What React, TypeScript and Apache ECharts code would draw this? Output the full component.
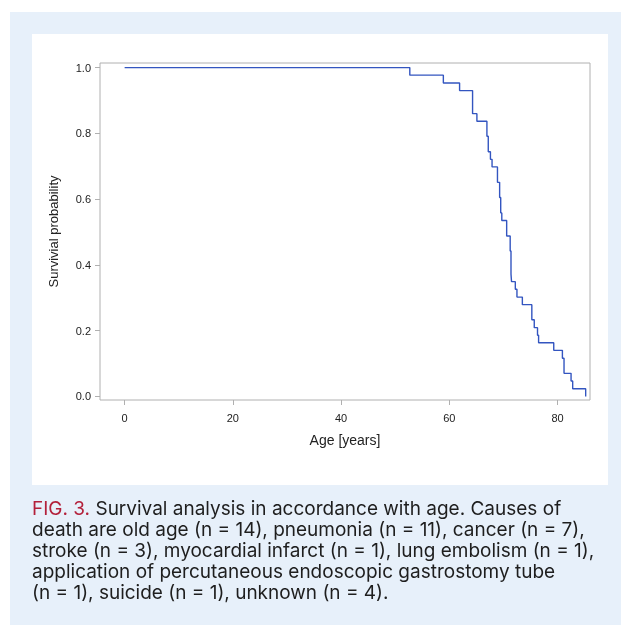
import React, { useEffect, useRef } from "react";
import * as echarts from "echarts";

// Kaplan-Meier survival estimates (age in years)
const ages = [0, 52.7, 58.9, 61.9, 64.3, 65.1, 66.95, 67.2, 67.6, 67.9, 68.9, 69.3, 69.5, 69.7, 70.6, 71.25, 71.4, 71.5, 72.2, 72.5, 73.5, 75.25, 75.7, 76.3, 76.5, 79.3, 80.9, 81.2, 82.5, 82.8, 85.2];
const survival = [1.0, 0.977, 0.953, 0.93, 0.86, 0.837, 0.791, 0.744, 0.721, 0.698, 0.651, 0.605, 0.558, 0.535, 0.488, 0.442, 0.372, 0.349, 0.326, 0.302, 0.279, 0.233, 0.209, 0.186, 0.163, 0.14, 0.116, 0.07, 0.047, 0.023, 0.0];
const xTicks = [0, 20, 40, 60, 80];
const yTicks = [0, 0.2, 0.4, 0.6, 0.8, 1.0];

const captionLines = [
  "{r|FIG. 3.} Survival analysis in accordance with age. Causes of",
  "death are old age (n = 14), pneumonia (n = 11), cancer (n = 7),",
  "stroke (n = 3), myocardial infarct (n = 1), lung embolism (n = 1),",
  "application of percutaneous endoscopic gastrostomy tube",
  "(n = 1), suicide (n = 1), unknown (n = 4).",
];

export default function App() {
  const ref = useRef<HTMLDivElement>(null);
  useEffect(() => {
    document.body.style.margin = "0";
    const chart = echarts.init(ref.current!, undefined, { renderer: "svg" });
    const font = "Liberation Sans, Arial, sans-serif";
    const capFont = "Inter, Roboto, sans-serif";
    chart.setOption({
      animation: false,
      graphic: [
        { type: "rect", z: -100, shape: { x: 10, y: 12, width: 611, height: 613 }, style: { fill: "#e7f0fa" } },
        { type: "rect", z: -99, shape: { x: 32, y: 34, width: 576, height: 451 }, style: { fill: "#ffffff" } },
        {
          type: "text",
          left: 32,
          top: 497.5,
          style: {
            text: captionLines.join("\n"),
            fontFamily: capFont,
            fontSize: 19,
            lineHeight: 21.2,
            fill: "#1e1e1e",
            rich: { r: { fill: "#b3203a", fontFamily: capFont, fontSize: 19, lineHeight: 21.2 } },
          },
        },
      ],
      grid: { left: 100, top: 63, right: 33, bottom: 230, show: true, borderColor: "#b0b0b0", borderWidth: 1, backgroundColor: "transparent" },
      xAxis: {
        type: "value",
        min: -4.55,
        max: 86,
        name: "Age [years]",
        nameLocation: "middle",
        nameGap: 33,
        nameTextStyle: { fontFamily: font, fontSize: 14, color: "#222" },
        axisLine: { show: false, onZero: false },
        splitLine: { show: false },
        axisTick: { show: true, customValues: xTicks, length: 5, lineStyle: { color: "#b0b0b0" } },
        axisLabel: { customValues: xTicks, fontFamily: font, fontSize: 11, color: "#222", margin: 12 },
      },
      yAxis: {
        type: "value",
        min: -0.011,
        max: 1.014,
        name: "Survivial probability",
        nameLocation: "middle",
        nameGap: 40,
        nameTextStyle: { fontFamily: font, fontSize: 13, color: "#222" },
        axisLine: { show: false, onZero: false },
        splitLine: { show: false },
        axisTick: { show: true, customValues: yTicks, length: 5, lineStyle: { color: "#b0b0b0" } },
        axisLabel: { customValues: yTicks, fontFamily: font, fontSize: 11, color: "#222", margin: 9, formatter: (v: number) => v.toFixed(1) },
      },
      series: [
        {
          type: "line",
          step: "end",
          symbol: "none",
          data: ages.map((a, i) => [a, survival[i]]),
          lineStyle: { color: "#3355c0", width: 1.4 },
        },
      ],
    });
    return () => chart.dispose();
  }, []);
  return <div ref={ref} style={{ position: "fixed", left: 0, top: 0, width: 623, height: 630 }} />;
}
